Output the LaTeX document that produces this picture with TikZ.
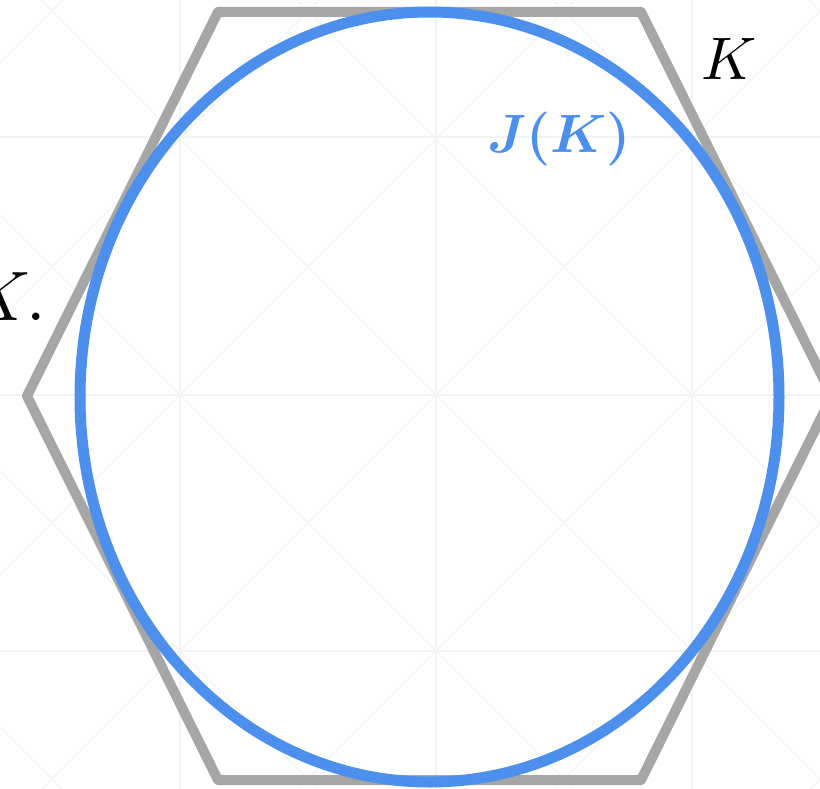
\documentclass[tikz,border=0pt]{standalone}
\usepackage{amsmath}
\usepackage{bm}
\usepackage{graphicx}
\definecolor{hexgray}{HTML}{A6A6A6}
\definecolor{johnblue}{HTML}{4C8FEC}
\definecolor{gridgray}{HTML}{F3F3F3}
\begin{document}
\begin{tikzpicture}[x=1pt,y=-1pt,
  gridline/.style={draw=gridgray,line width=1.1pt},
  hexline/.style={draw=hexgray,line width=10pt,line join=round},
  ellline/.style={draw=johnblue,line width=11pt},
  lbl/.style={inner sep=0pt,outer sep=0pt}]
\useasboundingbox (0,0) rectangle (820,789);
\fill[white] (0,0) rectangle (820,789);
\begin{scope}
\clip (0,0) rectangle (820,789);
% faint grid
\foreach \gx in {180,436,692} {\draw[gridline] (\gx,-10) -- (\gx,800);}
\foreach \gy in {137,395,651} {\draw[gridline] (-10,\gy) -- (830,\gy);}
\foreach \k in {-4,...,4} {
  \draw[gridline] ({41+256*\k-100},-100) -- ({41+256*\k+1000},1000);
  \draw[gridline] ({831+256*\k+100},-100) -- ({831+256*\k-1000},1000);
}
% hexagon K
\draw[hexline] (218,12) -- (641,12) -- (832,396) -- (641,780) -- (218,780) -- (27,396) -- cycle;
% John ellipse J(K)
\draw[ellline] (429.5,397) ellipse [x radius=349.5,y radius=385];
\end{scope}
% labels
\node[lbl,anchor=base west] (klab) at (701,80) {\scalebox{6}{$K$}};
\node[lbl,anchor=base west,text=johnblue] (jklab) at (487,153) {\scalebox{5.4}{$\bm{J(K)}$}};
\node[lbl,anchor=base east] (kdot) at (46,320) {\scalebox{7}{$K.$}};
\end{tikzpicture}
\end{document}
